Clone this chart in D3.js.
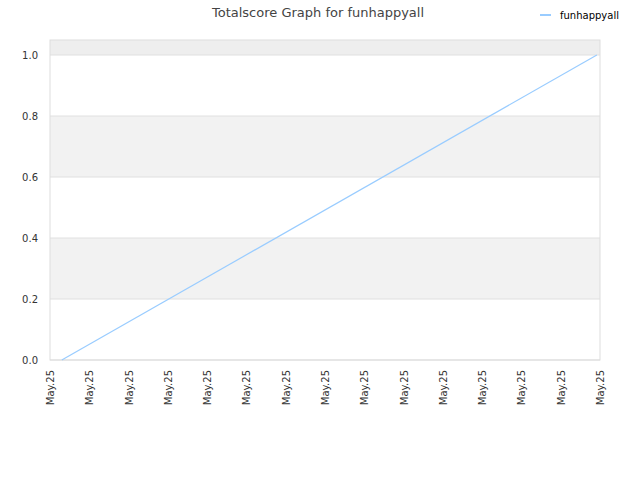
<!DOCTYPE html>
<html>
<head>
<meta charset="utf-8">
<script src="https://cdn.jsdelivr.net/npm/d3@7"></script>
<style>
  body { margin: 0; background: #fff; }
  text { font-family: "DejaVu Sans", sans-serif; }
</style>
</head>
<body>
<svg id="chart" width="640" height="480"></svg>
<script>
// data
let seriesName = "funhappyall";
let xTickLabels = ["May.25","May.25","May.25","May.25","May.25","May.25","May.25","May.25",
                   "May.25","May.25","May.25","May.25","May.25","May.25","May.25"];
let pointX = [0.3, 13.92];   // position along the day, in tick units
let pointY = [0, 1];
let yTicks = [0, 0.2, 0.4, 0.6, 0.8, 1.0];

let svg = d3.select("#chart");
let plotLeft = 50, plotRight = 600, plotTop = 40, plotBottom = 360;

let xScale = d3.scaleLinear().domain([0, xTickLabels.length - 1]).range([plotLeft, plotRight]);
let yScale = d3.scaleLinear().domain([0, 1]).range([plotBottom, 55]);

// bands
let bands = [[1.0, yScale.invert(plotTop), "#eeeeee"], [0.6, 0.8, "#f2f2f2"], [0.2, 0.4, "#f2f2f2"]];
svg.selectAll(".band")
    .data(bands)
    .enter().append("rect")
    .attr("class", "band")
    .attr("x", plotLeft)
    .attr("y", d => yScale(d[1]))
    .attr("width", plotRight - plotLeft)
    .attr("height", d => yScale(d[0]) - yScale(d[1]))
    .style("fill", d => d[2]);

// grid lines
svg.selectAll(".grid")
    .data(yTicks)
    .enter().append("line")
    .attr("class", "grid")
    .attr("x1", plotLeft).attr("x2", plotRight)
    .attr("y1", d => yScale(d)).attr("y2", d => yScale(d))
    .style("stroke", "#e0e0e0");

// frame
svg.append("rect")
    .attr("x", plotLeft).attr("y", plotTop)
    .attr("width", plotRight - plotLeft).attr("height", plotBottom - plotTop)
    .style("fill", "none")
    .style("stroke", "#dddddd");

// y axis labels
let yAxis = d3.axisLeft(yScale).tickValues(yTicks).tickFormat(d3.format(".1f")).tickSize(0).tickPadding(12);
let yg = svg.append("g").attr("transform", `translate(${plotLeft},0)`).call(yAxis);
yg.select(".domain").remove();
yg.selectAll("text").style("font-size", "10px").style("fill", "#333").style("font-family", "DejaVu Sans, sans-serif");

// x axis labels
let xAxis = d3.axisBottom(xScale).tickValues(d3.range(xTickLabels.length))
    .tickFormat(i => xTickLabels[i]).tickSize(0);
let xg = svg.append("g").attr("transform", `translate(0,${plotBottom})`).call(xAxis);
xg.select(".domain").remove();
xg.selectAll("text")
    .style("font-size", "10px").style("fill", "#333").style("font-family", "DejaVu Sans, sans-serif")
    .attr("text-anchor", "end")
    .attr("transform", "rotate(-90)")
    .attr("x", -10).attr("y", 0).attr("dy", "0.35em");

// line
let pts = pointX.map((x, i) => [x, pointY[i]]);
svg.append("path")
    .datum(pts)
    .attr("d", d3.line().x(d => xScale(d[0])).y(d => yScale(d[1])))
    .style("fill", "none")
    .style("stroke", "#99ccff")
    .style("stroke-width", 1.2);

// title
svg.append("text")
    .attr("x", 318).attr("y", 17)
    .attr("text-anchor", "middle")
    .style("font-size", "13px").style("fill", "#444")
    .text("Totalscore Graph for " + seriesName);

// legend
svg.append("line")
    .attr("x1", 540).attr("x2", 551).attr("y1", 15).attr("y2", 15)
    .style("stroke", "#99ccff").style("stroke-width", 2);
svg.append("text")
    .attr("x", 560).attr("y", 15).attr("dy", "0.35em")
    .style("font-size", "10px").style("fill", "#000")
    .text(seriesName);
</script>
</body>
</html>
